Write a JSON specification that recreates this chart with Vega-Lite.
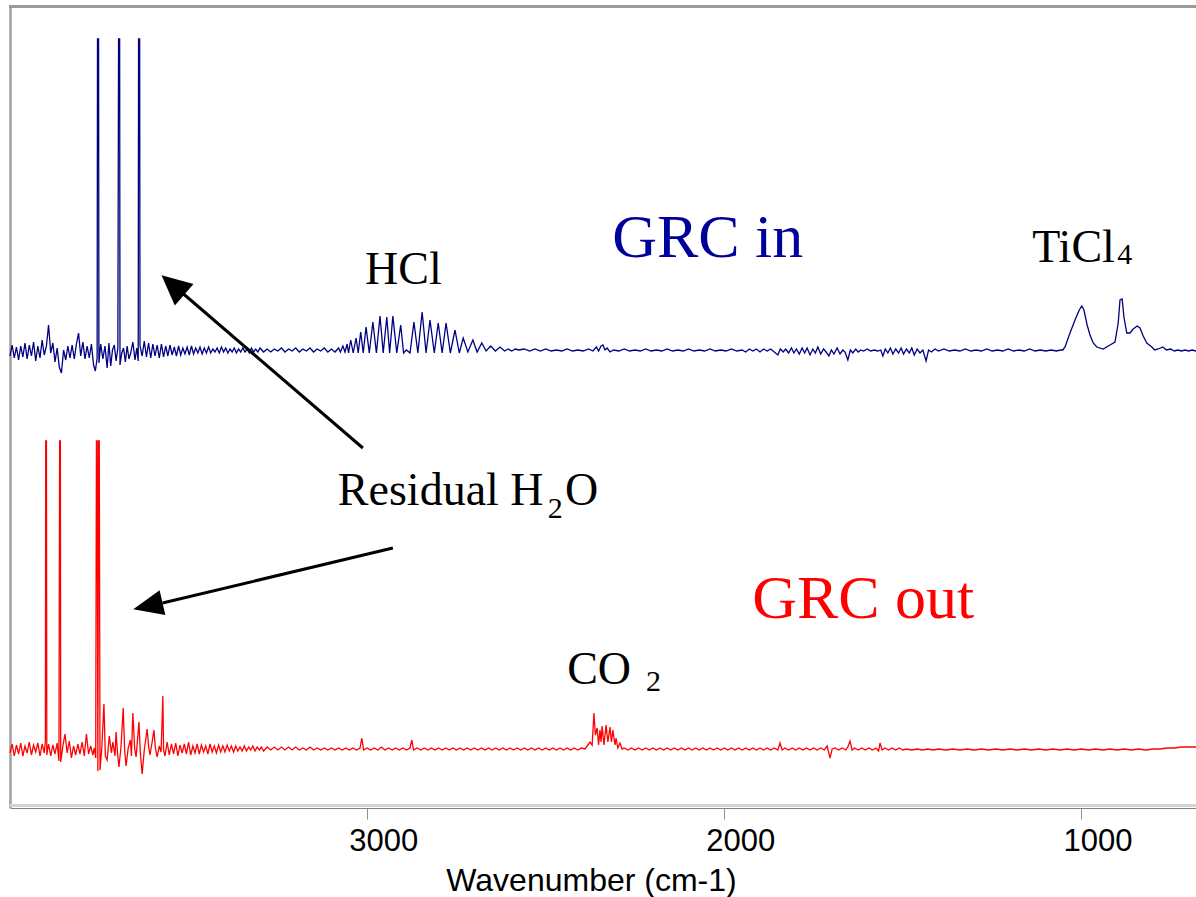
{
  "$schema": "https://vega.github.io/schema/vega-lite/v6.json",
  "width": 1186,
  "height": 803,
  "autosize": {"type": "none"},
  "padding": {"left": 10, "top": 5, "right": 0, "bottom": 89},
  "background": "white",
  "config": {"view": {"stroke": null}},
  "datasets": {
    "spec": [
      {"s":"in","wn":4000,"a":452},{"s":"in","wn":3994,"a":463},{"s":"in","wn":3988,"a":450},{"s":"in","wn":3982,"a":461},{"s":"in","wn":3976,"a":448},{"s":"in","wn":3970,"a":462},{"s":"in","wn":3964,"a":451},{"s":"in","wn":3958,"a":465},{"s":"in","wn":3952,"a":449},{"s":"in","wn":3946,"a":463},{"s":"in","wn":3940,"a":452},{"s":"in","wn":3934,"a":466},{"s":"in","wn":3928,"a":447},{"s":"in","wn":3922,"a":462},{"s":"in","wn":3916,"a":450},{"s":"in","wn":3910,"a":468},{"s":"in","wn":3904,"a":453},{"s":"in","wn":3898,"a":462},{"s":"in","wn":3892,"a":483},{"s":"in","wn":3886,"a":455},{"s":"in","wn":3880,"a":465},{"s":"in","wn":3874,"a":446},{"s":"in","wn":3868,"a":460},{"s":"in","wn":3862,"a":441},{"s":"in","wn":3856,"a":435},{"s":"in","wn":3850,"a":458},{"s":"in","wn":3844,"a":448},{"s":"in","wn":3838,"a":462},{"s":"in","wn":3832,"a":450},{"s":"in","wn":3826,"a":463},{"s":"in","wn":3820,"a":449},{"s":"in","wn":3814,"a":464},{"s":"in","wn":3808,"a":475},{"s":"in","wn":3802,"a":452},{"s":"in","wn":3796,"a":466},{"s":"in","wn":3790,"a":449},{"s":"in","wn":3784,"a":462},{"s":"in","wn":3778,"a":450},{"s":"in","wn":3772,"a":464},{"s":"in","wn":3766,"a":443},{"s":"in","wn":3761,"a":437},{"s":"in","wn":3756,"a":450},{"s":"in","wn":3755,"a":769},{"s":"in","wn":3752,"a":769},{"s":"in","wn":3751,"a":445},{"s":"in","wn":3746,"a":464},{"s":"in","wn":3740,"a":449},{"s":"in","wn":3734,"a":462},{"s":"in","wn":3728,"a":440},{"s":"in","wn":3723,"a":465},{"s":"in","wn":3718,"a":442},{"s":"in","wn":3713,"a":458},{"s":"in","wn":3708,"a":463},{"s":"in","wn":3703,"a":447},{"s":"in","wn":3698,"a":460},{"s":"in","wn":3696,"a":769},{"s":"in","wn":3693,"a":769},{"s":"in","wn":3692,"a":443},{"s":"in","wn":3687,"a":455},{"s":"in","wn":3682,"a":460},{"s":"in","wn":3677,"a":446},{"s":"in","wn":3672,"a":462},{"s":"in","wn":3667,"a":449},{"s":"in","wn":3662,"a":455},{"s":"in","wn":3656,"a":466},{"s":"in","wn":3650,"a":448},{"s":"in","wn":3645,"a":460},{"s":"in","wn":3641,"a":447},{"s":"in","wn":3640,"a":769},{"s":"in","wn":3637,"a":769},{"s":"in","wn":3636,"a":462},{"s":"in","wn":3630,"a":452},{"s":"in","wn":3624,"a":467},{"s":"in","wn":3618,"a":451},{"s":"in","wn":3612,"a":465},{"s":"in","wn":3606,"a":450},{"s":"in","wn":3600,"a":464},{"s":"in","wn":3594,"a":452},{"s":"in","wn":3588,"a":463},{"s":"in","wn":3582,"a":450},{"s":"in","wn":3576,"a":464},{"s":"in","wn":3570,"a":451},{"s":"in","wn":3564,"a":462},{"s":"in","wn":3558,"a":452},{"s":"in","wn":3552,"a":463},{"s":"in","wn":3546,"a":453},{"s":"in","wn":3540,"a":461},{"s":"in","wn":3534,"a":452},{"s":"in","wn":3528,"a":462},{"s":"in","wn":3522,"a":453},{"s":"in","wn":3516,"a":460},{"s":"in","wn":3510,"a":454},{"s":"in","wn":3504,"a":461},{"s":"in","wn":3498,"a":453},{"s":"in","wn":3492,"a":462},{"s":"in","wn":3486,"a":454},{"s":"in","wn":3480,"a":460},{"s":"in","wn":3474,"a":455},{"s":"in","wn":3468,"a":461},{"s":"in","wn":3462,"a":454},{"s":"in","wn":3456,"a":460},{"s":"in","wn":3450,"a":455},{"s":"in","wn":3444,"a":461},{"s":"in","wn":3438,"a":455},{"s":"in","wn":3432,"a":459},{"s":"in","wn":3426,"a":456},{"s":"in","wn":3420,"a":460},{"s":"in","wn":3414,"a":455},{"s":"in","wn":3408,"a":461},{"s":"in","wn":3402,"a":456},{"s":"in","wn":3396,"a":460},{"s":"in","wn":3390,"a":455},{"s":"in","wn":3384,"a":459},{"s":"in","wn":3378,"a":456},{"s":"in","wn":3372,"a":460},{"s":"in","wn":3366,"a":455},{"s":"in","wn":3360,"a":459},{"s":"in","wn":3354,"a":456},{"s":"in","wn":3348,"a":460},{"s":"in","wn":3342,"a":456},{"s":"in","wn":3336,"a":459},{"s":"in","wn":3330,"a":455},{"s":"in","wn":3324,"a":460},{"s":"in","wn":3318,"a":456},{"s":"in","wn":3312,"a":459},{"s":"in","wn":3306,"a":456},{"s":"in","wn":3300,"a":460},{"s":"in","wn":3290,"a":456},{"s":"in","wn":3280,"a":459},{"s":"in","wn":3270,"a":456},{"s":"in","wn":3260,"a":459},{"s":"in","wn":3250,"a":457},{"s":"in","wn":3240,"a":460},{"s":"in","wn":3230,"a":456},{"s":"in","wn":3220,"a":459},{"s":"in","wn":3210,"a":457},{"s":"in","wn":3200,"a":460},{"s":"in","wn":3190,"a":456},{"s":"in","wn":3180,"a":459},{"s":"in","wn":3170,"a":457},{"s":"in","wn":3160,"a":460},{"s":"in","wn":3150,"a":456},{"s":"in","wn":3140,"a":459},{"s":"in","wn":3130,"a":457},{"s":"in","wn":3120,"a":460},{"s":"in","wn":3110,"a":456},{"s":"in","wn":3100,"a":459},{"s":"in","wn":3090,"a":456},{"s":"in","wn":3080,"a":460},{"s":"in","wn":3075,"a":456},{"s":"in","wn":3068,"a":462},{"s":"in","wn":3062,"a":456},{"s":"in","wn":3056,"a":464},{"s":"in","wn":3052,"a":455},{"s":"in","wn":3046,"a":468},{"s":"in","wn":3039,"a":455},{"s":"in","wn":3031,"a":470},{"s":"in","wn":3025,"a":455},{"s":"in","wn":3018,"a":476},{"s":"in","wn":3011,"a":455},{"s":"in","wn":3003,"a":481},{"s":"in","wn":2994,"a":455},{"s":"in","wn":2984,"a":486},{"s":"in","wn":2974,"a":455},{"s":"in","wn":2964,"a":492},{"s":"in","wn":2955,"a":455},{"s":"in","wn":2945,"a":491},{"s":"in","wn":2937,"a":455},{"s":"in","wn":2928,"a":492},{"s":"in","wn":2917,"a":455},{"s":"in","wn":2906,"a":483},{"s":"in","wn":2898,"a":455},{"s":"in","wn":2890,"a":458},{"s":"in","wn":2880,"a":455},{"s":"in","wn":2869,"a":486},{"s":"in","wn":2858,"a":455},{"s":"in","wn":2846,"a":496},{"s":"in","wn":2835,"a":455},{"s":"in","wn":2824,"a":488},{"s":"in","wn":2812,"a":455},{"s":"in","wn":2801,"a":485},{"s":"in","wn":2790,"a":455},{"s":"in","wn":2779,"a":485},{"s":"in","wn":2767,"a":455},{"s":"in","wn":2754,"a":478},{"s":"in","wn":2742,"a":455},{"s":"in","wn":2731,"a":470},{"s":"in","wn":2718,"a":456},{"s":"in","wn":2704,"a":468},{"s":"in","wn":2692,"a":456},{"s":"in","wn":2679,"a":465},{"s":"in","wn":2667,"a":457},{"s":"in","wn":2654,"a":462},{"s":"in","wn":2641,"a":457},{"s":"in","wn":2628,"a":461},{"s":"in","wn":2615,"a":457},{"s":"in","wn":2605,"a":459},{"s":"in","wn":2595,"a":457},{"s":"in","wn":2585,"a":459},{"s":"in","wn":2575,"a":458},{"s":"in","wn":2560,"a":459},{"s":"in","wn":2545,"a":457},{"s":"in","wn":2530,"a":459},{"s":"in","wn":2515,"a":457},{"s":"in","wn":2500,"a":459},{"s":"in","wn":2485,"a":457},{"s":"in","wn":2470,"a":458},{"s":"in","wn":2455,"a":457},{"s":"in","wn":2440,"a":459},{"s":"in","wn":2425,"a":457},{"s":"in","wn":2410,"a":458},{"s":"in","wn":2395,"a":457},{"s":"in","wn":2380,"a":459},{"s":"in","wn":2368,"a":457},{"s":"in","wn":2358,"a":461},{"s":"in","wn":2352,"a":457},{"s":"in","wn":2345,"a":462},{"s":"in","wn":2340,"a":463},{"s":"in","wn":2334,"a":458},{"s":"in","wn":2328,"a":460},{"s":"in","wn":2320,"a":456},{"s":"in","wn":2310,"a":458},{"s":"in","wn":2295,"a":457},{"s":"in","wn":2280,"a":459},{"s":"in","wn":2265,"a":457},{"s":"in","wn":2250,"a":458},{"s":"in","wn":2235,"a":457},{"s":"in","wn":2220,"a":459},{"s":"in","wn":2205,"a":457},{"s":"in","wn":2190,"a":458},{"s":"in","wn":2175,"a":457},{"s":"in","wn":2160,"a":459},{"s":"in","wn":2145,"a":457},{"s":"in","wn":2130,"a":458},{"s":"in","wn":2115,"a":457},{"s":"in","wn":2100,"a":459},{"s":"in","wn":2085,"a":457},{"s":"in","wn":2070,"a":458},{"s":"in","wn":2055,"a":457},{"s":"in","wn":2040,"a":459},{"s":"in","wn":2025,"a":457},{"s":"in","wn":2010,"a":458},{"s":"in","wn":1995,"a":457},{"s":"in","wn":1980,"a":459},{"s":"in","wn":1965,"a":457},{"s":"in","wn":1950,"a":458},{"s":"in","wn":1940,"a":456},{"s":"in","wn":1930,"a":459},{"s":"in","wn":1920,"a":457},{"s":"in","wn":1910,"a":459},{"s":"in","wn":1900,"a":456},{"s":"in","wn":1890,"a":459},{"s":"in","wn":1880,"a":457},{"s":"in","wn":1870,"a":459},{"s":"in","wn":1860,"a":456},{"s":"in","wn":1850,"a":453},{"s":"in","wn":1843,"a":459},{"s":"in","wn":1835,"a":456},{"s":"in","wn":1828,"a":459},{"s":"in","wn":1820,"a":455},{"s":"in","wn":1812,"a":460},{"s":"in","wn":1805,"a":455},{"s":"in","wn":1798,"a":459},{"s":"in","wn":1790,"a":454},{"s":"in","wn":1782,"a":460},{"s":"in","wn":1775,"a":455},{"s":"in","wn":1768,"a":460},{"s":"in","wn":1760,"a":453},{"s":"in","wn":1752,"a":459},{"s":"in","wn":1745,"a":455},{"s":"in","wn":1738,"a":461},{"s":"in","wn":1730,"a":454},{"s":"in","wn":1722,"a":459},{"s":"in","wn":1715,"a":456},{"s":"in","wn":1707,"a":452},{"s":"in","wn":1700,"a":458},{"s":"in","wn":1693,"a":454},{"s":"in","wn":1684,"a":460},{"s":"in","wn":1676,"a":454},{"s":"in","wn":1668,"a":458},{"s":"in","wn":1662,"a":456},{"s":"in","wn":1654,"a":448},{"s":"in","wn":1647,"a":458},{"s":"in","wn":1640,"a":455},{"s":"in","wn":1632,"a":459},{"s":"in","wn":1625,"a":456},{"s":"in","wn":1618,"a":458},{"s":"in","wn":1610,"a":457},{"s":"in","wn":1600,"a":459},{"s":"in","wn":1590,"a":457},{"s":"in","wn":1580,"a":458},{"s":"in","wn":1570,"a":457},{"s":"in","wn":1562,"a":458},{"s":"in","wn":1556,"a":452},{"s":"in","wn":1549,"a":459},{"s":"in","wn":1542,"a":455},{"s":"in","wn":1535,"a":460},{"s":"in","wn":1528,"a":454},{"s":"in","wn":1520,"a":459},{"s":"in","wn":1512,"a":455},{"s":"in","wn":1505,"a":460},{"s":"in","wn":1498,"a":454},{"s":"in","wn":1490,"a":459},{"s":"in","wn":1482,"a":455},{"s":"in","wn":1475,"a":460},{"s":"in","wn":1468,"a":453},{"s":"in","wn":1460,"a":459},{"s":"in","wn":1452,"a":455},{"s":"in","wn":1444,"a":458},{"s":"in","wn":1435,"a":447},{"s":"in","wn":1428,"a":458},{"s":"in","wn":1420,"a":456},{"s":"in","wn":1410,"a":459},{"s":"in","wn":1400,"a":457},{"s":"in","wn":1385,"a":459},{"s":"in","wn":1370,"a":457},{"s":"in","wn":1355,"a":458},{"s":"in","wn":1340,"a":457},{"s":"in","wn":1325,"a":459},{"s":"in","wn":1310,"a":457},{"s":"in","wn":1295,"a":458},{"s":"in","wn":1280,"a":457},{"s":"in","wn":1265,"a":459},{"s":"in","wn":1250,"a":457},{"s":"in","wn":1235,"a":458},{"s":"in","wn":1220,"a":457},{"s":"in","wn":1205,"a":459},{"s":"in","wn":1190,"a":457},{"s":"in","wn":1175,"a":458},{"s":"in","wn":1160,"a":457},{"s":"in","wn":1145,"a":459},{"s":"in","wn":1130,"a":457},{"s":"in","wn":1115,"a":458},{"s":"in","wn":1100,"a":457},{"s":"in","wn":1085,"a":458},{"s":"in","wn":1070,"a":457},{"s":"in","wn":1058,"a":458},{"s":"in","wn":1052,"a":458},{"s":"in","wn":1046,"a":461},{"s":"in","wn":1032,"a":475},{"s":"in","wn":1018,"a":488},{"s":"in","wn":1006,"a":498},{"s":"in","wn":999,"a":502},{"s":"in","wn":993,"a":498},{"s":"in","wn":984,"a":483},{"s":"in","wn":976,"a":473},{"s":"in","wn":967,"a":465},{"s":"in","wn":957,"a":461},{"s":"in","wn":939,"a":459},{"s":"in","wn":920,"a":463},{"s":"in","wn":906,"a":466},{"s":"in","wn":897,"a":485},{"s":"in","wn":892,"a":508},{"s":"in","wn":886,"a":509},{"s":"in","wn":881,"a":491},{"s":"in","wn":873,"a":475},{"s":"in","wn":864,"a":475},{"s":"in","wn":855,"a":479},{"s":"in","wn":844,"a":482},{"s":"in","wn":836,"a":480},{"s":"in","wn":827,"a":472},{"s":"in","wn":817,"a":465},{"s":"in","wn":803,"a":461},{"s":"in","wn":795,"a":458},{"s":"in","wn":785,"a":459},{"s":"in","wn":772,"a":461},{"s":"in","wn":762,"a":458},{"s":"in","wn":750,"a":459},{"s":"in","wn":740,"a":457},{"s":"in","wn":730,"a":458},{"s":"in","wn":720,"a":457},{"s":"in","wn":710,"a":458},{"s":"in","wn":700,"a":457},{"s":"in","wn":690,"a":458},{"s":"in","wn":679,"a":457},
      {"s":"out","wn":4000,"a":55},{"s":"out","wn":3994,"a":64},{"s":"out","wn":3988,"a":52},{"s":"out","wn":3982,"a":63},{"s":"out","wn":3976,"a":54},{"s":"out","wn":3970,"a":65},{"s":"out","wn":3964,"a":52},{"s":"out","wn":3958,"a":62},{"s":"out","wn":3952,"a":55},{"s":"out","wn":3946,"a":66},{"s":"out","wn":3940,"a":53},{"s":"out","wn":3934,"a":63},{"s":"out","wn":3928,"a":56},{"s":"out","wn":3922,"a":65},{"s":"out","wn":3916,"a":52},{"s":"out","wn":3910,"a":64},{"s":"out","wn":3904,"a":55},{"s":"out","wn":3901,"a":67},{"s":"out","wn":3900,"a":367},{"s":"out","wn":3898,"a":367},{"s":"out","wn":3897,"a":53},{"s":"out","wn":3892,"a":64},{"s":"out","wn":3886,"a":52},{"s":"out","wn":3880,"a":63},{"s":"out","wn":3874,"a":54},{"s":"out","wn":3868,"a":65},{"s":"out","wn":3863,"a":47},{"s":"out","wn":3861,"a":367},{"s":"out","wn":3859,"a":367},{"s":"out","wn":3858,"a":46},{"s":"out","wn":3852,"a":62},{"s":"out","wn":3846,"a":74},{"s":"out","wn":3840,"a":55},{"s":"out","wn":3834,"a":67},{"s":"out","wn":3828,"a":50},{"s":"out","wn":3822,"a":62},{"s":"out","wn":3816,"a":53},{"s":"out","wn":3810,"a":64},{"s":"out","wn":3804,"a":54},{"s":"out","wn":3798,"a":66},{"s":"out","wn":3792,"a":52},{"s":"out","wn":3786,"a":74},{"s":"out","wn":3780,"a":54},{"s":"out","wn":3774,"a":62},{"s":"out","wn":3768,"a":53},{"s":"out","wn":3764,"a":60},{"s":"out","wn":3760,"a":50},{"s":"out","wn":3758,"a":367},{"s":"out","wn":3756,"a":367},{"s":"out","wn":3754,"a":37},{"s":"out","wn":3752,"a":367},{"s":"out","wn":3750,"a":367},{"s":"out","wn":3748,"a":38},{"s":"out","wn":3743,"a":60},{"s":"out","wn":3737,"a":104},{"s":"out","wn":3733,"a":52},{"s":"out","wn":3728,"a":48},{"s":"out","wn":3722,"a":72},{"s":"out","wn":3716,"a":55},{"s":"out","wn":3712,"a":66},{"s":"out","wn":3706,"a":52},{"s":"out","wn":3703,"a":76},{"s":"out","wn":3699,"a":55},{"s":"out","wn":3695,"a":41},{"s":"out","wn":3689,"a":62},{"s":"out","wn":3683,"a":100},{"s":"out","wn":3679,"a":58},{"s":"out","wn":3675,"a":42},{"s":"out","wn":3669,"a":60},{"s":"out","wn":3663,"a":68},{"s":"out","wn":3660,"a":52},{"s":"out","wn":3656,"a":95},{"s":"out","wn":3651,"a":60},{"s":"out","wn":3647,"a":51},{"s":"out","wn":3643,"a":68},{"s":"out","wn":3639,"a":86},{"s":"out","wn":3635,"a":55},{"s":"out","wn":3630,"a":34},{"s":"out","wn":3624,"a":58},{"s":"out","wn":3616,"a":79},{"s":"out","wn":3612,"a":62},{"s":"out","wn":3608,"a":53},{"s":"out","wn":3602,"a":66},{"s":"out","wn":3597,"a":78},{"s":"out","wn":3593,"a":60},{"s":"out","wn":3588,"a":51},{"s":"out","wn":3582,"a":62},{"s":"out","wn":3577,"a":56},{"s":"out","wn":3572,"a":112},{"s":"out","wn":3570,"a":58},{"s":"out","wn":3566,"a":52},{"s":"out","wn":3560,"a":66},{"s":"out","wn":3554,"a":53},{"s":"out","wn":3548,"a":64},{"s":"out","wn":3542,"a":54},{"s":"out","wn":3536,"a":65},{"s":"out","wn":3530,"a":52},{"s":"out","wn":3524,"a":63},{"s":"out","wn":3518,"a":55},{"s":"out","wn":3512,"a":64},{"s":"out","wn":3506,"a":54},{"s":"out","wn":3500,"a":66},{"s":"out","wn":3494,"a":53},{"s":"out","wn":3488,"a":62},{"s":"out","wn":3482,"a":55},{"s":"out","wn":3476,"a":64},{"s":"out","wn":3470,"a":54},{"s":"out","wn":3464,"a":63},{"s":"out","wn":3458,"a":56},{"s":"out","wn":3452,"a":62},{"s":"out","wn":3446,"a":54},{"s":"out","wn":3440,"a":64},{"s":"out","wn":3434,"a":56},{"s":"out","wn":3428,"a":62},{"s":"out","wn":3422,"a":55},{"s":"out","wn":3416,"a":63},{"s":"out","wn":3410,"a":56},{"s":"out","wn":3404,"a":62},{"s":"out","wn":3398,"a":56},{"s":"out","wn":3392,"a":63},{"s":"out","wn":3386,"a":57},{"s":"out","wn":3380,"a":62},{"s":"out","wn":3374,"a":56},{"s":"out","wn":3368,"a":62},{"s":"out","wn":3362,"a":57},{"s":"out","wn":3356,"a":61},{"s":"out","wn":3350,"a":57},{"s":"out","wn":3344,"a":62},{"s":"out","wn":3338,"a":57},{"s":"out","wn":3332,"a":61},{"s":"out","wn":3326,"a":58},{"s":"out","wn":3320,"a":62},{"s":"out","wn":3314,"a":57},{"s":"out","wn":3308,"a":61},{"s":"out","wn":3302,"a":58},{"s":"out","wn":3296,"a":61},{"s":"out","wn":3290,"a":57},{"s":"out","wn":3280,"a":61},{"s":"out","wn":3270,"a":58},{"s":"out","wn":3260,"a":61},{"s":"out","wn":3250,"a":58},{"s":"out","wn":3240,"a":61},{"s":"out","wn":3230,"a":58},{"s":"out","wn":3220,"a":61},{"s":"out","wn":3210,"a":58},{"s":"out","wn":3200,"a":61},{"s":"out","wn":3190,"a":58},{"s":"out","wn":3180,"a":60},{"s":"out","wn":3170,"a":58},{"s":"out","wn":3160,"a":61},{"s":"out","wn":3150,"a":58},{"s":"out","wn":3140,"a":60},{"s":"out","wn":3130,"a":58},{"s":"out","wn":3120,"a":60},{"s":"out","wn":3110,"a":58},{"s":"out","wn":3100,"a":60},{"s":"out","wn":3090,"a":58},{"s":"out","wn":3080,"a":60},{"s":"out","wn":3070,"a":58},{"s":"out","wn":3060,"a":60},{"s":"out","wn":3050,"a":58},{"s":"out","wn":3040,"a":60},{"s":"out","wn":3030,"a":58},{"s":"out","wn":3020,"a":60},{"s":"out","wn":3015,"a":70},{"s":"out","wn":3010,"a":58},{"s":"out","wn":3000,"a":60},{"s":"out","wn":2990,"a":58},{"s":"out","wn":2980,"a":60},{"s":"out","wn":2970,"a":58},{"s":"out","wn":2960,"a":61},{"s":"out","wn":2950,"a":58},{"s":"out","wn":2940,"a":60},{"s":"out","wn":2930,"a":58},{"s":"out","wn":2920,"a":60},{"s":"out","wn":2910,"a":58},{"s":"out","wn":2900,"a":60},{"s":"out","wn":2890,"a":58},{"s":"out","wn":2880,"a":60},{"s":"out","wn":2875,"a":68},{"s":"out","wn":2870,"a":58},{"s":"out","wn":2860,"a":60},{"s":"out","wn":2850,"a":58},{"s":"out","wn":2840,"a":60},{"s":"out","wn":2830,"a":58},{"s":"out","wn":2820,"a":60},{"s":"out","wn":2810,"a":58},{"s":"out","wn":2800,"a":60},{"s":"out","wn":2790,"a":58},{"s":"out","wn":2780,"a":60},{"s":"out","wn":2770,"a":58},{"s":"out","wn":2760,"a":60},{"s":"out","wn":2750,"a":58},{"s":"out","wn":2740,"a":60},{"s":"out","wn":2730,"a":58},{"s":"out","wn":2720,"a":60},{"s":"out","wn":2710,"a":58},{"s":"out","wn":2700,"a":60},{"s":"out","wn":2690,"a":58},{"s":"out","wn":2680,"a":60},{"s":"out","wn":2670,"a":58},{"s":"out","wn":2660,"a":60},{"s":"out","wn":2650,"a":58},{"s":"out","wn":2640,"a":60},{"s":"out","wn":2630,"a":58},{"s":"out","wn":2620,"a":60},{"s":"out","wn":2610,"a":58},{"s":"out","wn":2600,"a":60},{"s":"out","wn":2590,"a":58},{"s":"out","wn":2580,"a":60},{"s":"out","wn":2570,"a":58},{"s":"out","wn":2560,"a":60},{"s":"out","wn":2550,"a":58},{"s":"out","wn":2540,"a":60},{"s":"out","wn":2530,"a":58},{"s":"out","wn":2520,"a":60},{"s":"out","wn":2510,"a":58},{"s":"out","wn":2500,"a":60},{"s":"out","wn":2490,"a":58},{"s":"out","wn":2480,"a":60},{"s":"out","wn":2470,"a":58},{"s":"out","wn":2460,"a":60},{"s":"out","wn":2450,"a":58},{"s":"out","wn":2440,"a":60},{"s":"out","wn":2430,"a":58},{"s":"out","wn":2420,"a":60},{"s":"out","wn":2410,"a":58},{"s":"out","wn":2400,"a":60},{"s":"out","wn":2390,"a":59},{"s":"out","wn":2382,"a":63},{"s":"out","wn":2376,"a":66},{"s":"out","wn":2370,"a":63},{"s":"out","wn":2365,"a":95},{"s":"out","wn":2361,"a":73},{"s":"out","wn":2356,"a":80},{"s":"out","wn":2352,"a":63},{"s":"out","wn":2348,"a":78},{"s":"out","wn":2345,"a":66},{"s":"out","wn":2342,"a":82},{"s":"out","wn":2337,"a":63},{"s":"out","wn":2331,"a":83},{"s":"out","wn":2326,"a":66},{"s":"out","wn":2320,"a":81},{"s":"out","wn":2316,"a":66},{"s":"out","wn":2312,"a":78},{"s":"out","wn":2306,"a":63},{"s":"out","wn":2303,"a":70},{"s":"out","wn":2298,"a":60},{"s":"out","wn":2292,"a":65},{"s":"out","wn":2286,"a":59},{"s":"out","wn":2280,"a":60},{"s":"out","wn":2270,"a":58},{"s":"out","wn":2260,"a":60},{"s":"out","wn":2250,"a":58},{"s":"out","wn":2240,"a":60},{"s":"out","wn":2230,"a":58},{"s":"out","wn":2220,"a":60},{"s":"out","wn":2210,"a":58},{"s":"out","wn":2200,"a":60},{"s":"out","wn":2190,"a":58},{"s":"out","wn":2180,"a":60},{"s":"out","wn":2170,"a":58},{"s":"out","wn":2160,"a":60},{"s":"out","wn":2150,"a":58},{"s":"out","wn":2140,"a":60},{"s":"out","wn":2130,"a":58},{"s":"out","wn":2120,"a":60},{"s":"out","wn":2110,"a":58},{"s":"out","wn":2100,"a":60},{"s":"out","wn":2090,"a":58},{"s":"out","wn":2080,"a":60},{"s":"out","wn":2070,"a":58},{"s":"out","wn":2060,"a":60},{"s":"out","wn":2050,"a":58},{"s":"out","wn":2040,"a":60},{"s":"out","wn":2030,"a":58},{"s":"out","wn":2020,"a":60},{"s":"out","wn":2010,"a":58},{"s":"out","wn":2000,"a":60},{"s":"out","wn":1990,"a":58},{"s":"out","wn":1980,"a":60},{"s":"out","wn":1970,"a":58},{"s":"out","wn":1960,"a":60},{"s":"out","wn":1950,"a":58},{"s":"out","wn":1940,"a":60},{"s":"out","wn":1930,"a":58},{"s":"out","wn":1920,"a":60},{"s":"out","wn":1910,"a":58},{"s":"out","wn":1900,"a":60},{"s":"out","wn":1890,"a":58},{"s":"out","wn":1880,"a":60},{"s":"out","wn":1870,"a":58},{"s":"out","wn":1860,"a":60},{"s":"out","wn":1850,"a":58},{"s":"out","wn":1844,"a":65},{"s":"out","wn":1838,"a":58},{"s":"out","wn":1830,"a":60},{"s":"out","wn":1820,"a":58},{"s":"out","wn":1810,"a":60},{"s":"out","wn":1800,"a":58},{"s":"out","wn":1790,"a":60},{"s":"out","wn":1780,"a":58},{"s":"out","wn":1770,"a":60},{"s":"out","wn":1760,"a":58},{"s":"out","wn":1750,"a":60},{"s":"out","wn":1740,"a":58},{"s":"out","wn":1730,"a":60},{"s":"out","wn":1720,"a":58},{"s":"out","wn":1712,"a":62},{"s":"out","wn":1704,"a":50},{"s":"out","wn":1698,"a":59},{"s":"out","wn":1690,"a":60},{"s":"out","wn":1680,"a":58},{"s":"out","wn":1670,"a":60},{"s":"out","wn":1660,"a":58},{"s":"out","wn":1654,"a":61},{"s":"out","wn":1648,"a":67},{"s":"out","wn":1642,"a":58},{"s":"out","wn":1635,"a":60},{"s":"out","wn":1625,"a":58},{"s":"out","wn":1615,"a":60},{"s":"out","wn":1605,"a":58},{"s":"out","wn":1595,"a":60},{"s":"out","wn":1585,"a":58},{"s":"out","wn":1575,"a":60},{"s":"out","wn":1568,"a":57},{"s":"out","wn":1564,"a":65},{"s":"out","wn":1558,"a":58},{"s":"out","wn":1550,"a":60},{"s":"out","wn":1540,"a":58},{"s":"out","wn":1530,"a":60},{"s":"out","wn":1520,"a":58},{"s":"out","wn":1510,"a":60},{"s":"out","wn":1500,"a":58},{"s":"out","wn":1490,"a":59},{"s":"out","wn":1475,"a":58},{"s":"out","wn":1460,"a":59},{"s":"out","wn":1445,"a":58},{"s":"out","wn":1430,"a":59},{"s":"out","wn":1415,"a":58},{"s":"out","wn":1400,"a":59},{"s":"out","wn":1380,"a":58},{"s":"out","wn":1360,"a":59},{"s":"out","wn":1340,"a":58},{"s":"out","wn":1320,"a":59},{"s":"out","wn":1300,"a":58},{"s":"out","wn":1280,"a":59},{"s":"out","wn":1260,"a":58},{"s":"out","wn":1240,"a":59},{"s":"out","wn":1220,"a":58},{"s":"out","wn":1200,"a":59},{"s":"out","wn":1180,"a":58},{"s":"out","wn":1160,"a":59},{"s":"out","wn":1140,"a":58},{"s":"out","wn":1120,"a":59},{"s":"out","wn":1100,"a":58},{"s":"out","wn":1080,"a":59},{"s":"out","wn":1060,"a":58},{"s":"out","wn":1040,"a":59},{"s":"out","wn":1020,"a":58},{"s":"out","wn":1000,"a":59},{"s":"out","wn":980,"a":58},{"s":"out","wn":960,"a":59},{"s":"out","wn":940,"a":58},{"s":"out","wn":920,"a":59},{"s":"out","wn":900,"a":58},{"s":"out","wn":880,"a":59},{"s":"out","wn":860,"a":58},{"s":"out","wn":840,"a":59},{"s":"out","wn":820,"a":58},{"s":"out","wn":800,"a":59},{"s":"out","wn":780,"a":59},{"s":"out","wn":760,"a":60},{"s":"out","wn":740,"a":60},{"s":"out","wn":720,"a":61},{"s":"out","wn":700,"a":61},{"s":"out","wn":679,"a":61}
    ],
    "topedge": [{"wn": 4003, "wn2": 679.2, "a": 801.5}],
    "bottomband": [{"wn": 4000, "wn2": 679.2, "a": 2.5}],
    "arrows": [
      {"wn":3514,"a":514,"wn2":3012,"a2":360},
      {"wn":3573,"a":205,"wn2":2928,"a2":260}
    ],
    "head1": [{"wn":3544,"a":523}],
    "head2": [{"wn":3614,"a":202}],
    "tin": [{"wn":2314,"a":551,"t":"GRC in"}],
    "tout": [{"wn":1922,"a":190,"t":"GRC out"}],
    "labels": [
      {"wn":3006,"a":524,"t":"HCl"},
      {"wn":1138,"a":546,"t":"TiCl"},
      {"wn":2446,"a":303,"t":"O"},
      {"wn":2440,"a":124,"t":"CO"}
    ],
    "rlabels": [
      {"wn":2506,"a":303,"t":"Residual H"}
    ],
    "subs": [
      {"wn":900,"a":544,"t":"4"},
      {"wn":2494,"a":290,"t":"2"},
      {"wn":2219,"a":117,"t":"2"}
    ]
  },
  "encoding": {
    "x": {
      "field": "wn",
      "type": "quantitative",
      "scale": {"domain": [679.2, 4000], "reverse": true, "nice": false, "zero": false},
      "axis": {
        "values": [3000, 2000, 1000],
        "format": "d",
        "title": "Wavenumber (cm-1)",
        "grid": false,
        "domainColor": "#808080",
        "domainWidth": 1,
        "tickColor": "#909090",
        "tickSize": 11,
        "tickWidth": 1,
        "labelFont": "Liberation Sans",
        "labelFontSize": 31,
        "labelColor": "#000000",
        "labelPadding": 31,
        "labelBaseline": "alphabetic",
        "labelOffset": 16,
        "labelFlush": false,
        "labelOverlap": false,
        "titleFont": "Liberation Sans",
        "titleFontSize": 32,
        "titleFontWeight": "normal",
        "titleColor": "#000000",
        "titleBaseline": "alphabetic",
        "titleY": 82,
        "titleX": 581
      }
    },
    "y": {
      "field": "a",
      "type": "quantitative",
      "scale": {"domain": [0, 803], "nice": false, "zero": false},
      "axis": {
        "orient": "left",
        "title": null,
        "labels": false,
        "ticks": false,
        "domain": true,
        "domainColor": "#a0a0a0",
        "domainWidth": 2.5,
        "grid": false
      }
    }
  },
  "layer": [
    {
      "data": {"name": "topedge"},
      "mark": {"type": "rule", "color": "#9a9a9a", "strokeWidth": 3, "clip": false},
      "encoding": {"x2": {"field": "wn2"}}
    },
    {
      "data": {"name": "bottomband"},
      "mark": {"type": "rule", "color": "#d2d2d2", "strokeWidth": 3},
      "encoding": {"x2": {"field": "wn2"}}
    },
    {
      "data": {"name": "spec"},
      "mark": {"type": "line", "strokeWidth": 1.3},
      "encoding": {
        "color": {"field": "s", "type": "nominal", "scale": {"domain": ["in", "out"], "range": ["#000080", "#ff0000"]}, "legend": null}
      }
    },
    {
      "data": {"name": "arrows"},
      "mark": {"type": "rule", "color": "#000000", "strokeWidth": 3},
      "encoding": {
        "x2": {"field": "wn2"},
        "y2": {"field": "a2"}
      }
    },
    {
      "data": {"name": "head1"},
      "mark": {"type": "point", "shape": "M0,-1L0.95,1L-0.95,1Z", "filled": true, "size": 900, "color": "#000000", "opacity": 1, "angle": 311}
    },
    {
      "data": {"name": "head2"},
      "mark": {"type": "point", "shape": "M0,-1L0.85,1L-0.85,1Z", "filled": true, "size": 900, "color": "#000000", "opacity": 1, "angle": 257}
    },
    {
      "data": {"name": "tin"},
      "mark": {"type": "text", "font": "Liberation Serif", "fontSize": 62, "color": "#00009a", "align": "left", "baseline": "alphabetic"},
      "encoding": {"text": {"field": "t"}}
    },
    {
      "data": {"name": "tout"},
      "mark": {"type": "text", "font": "Liberation Serif", "fontSize": 62, "color": "#ff0000", "align": "left", "baseline": "alphabetic"},
      "encoding": {"text": {"field": "t"}}
    },
    {
      "data": {"name": "labels"},
      "mark": {"type": "text", "font": "Liberation Serif", "fontSize": 46, "color": "#000000", "align": "left", "baseline": "alphabetic"},
      "encoding": {"text": {"field": "t"}}
    },
    {
      "data": {"name": "rlabels"},
      "mark": {"type": "text", "font": "Liberation Serif", "fontSize": 46, "color": "#000000", "align": "right", "baseline": "alphabetic"},
      "encoding": {"text": {"field": "t"}}
    },
    {
      "data": {"name": "subs"},
      "mark": {"type": "text", "font": "Liberation Serif", "fontSize": 30, "color": "#000000", "align": "left", "baseline": "alphabetic"},
      "encoding": {"text": {"field": "t"}}
    }
  ]
}
